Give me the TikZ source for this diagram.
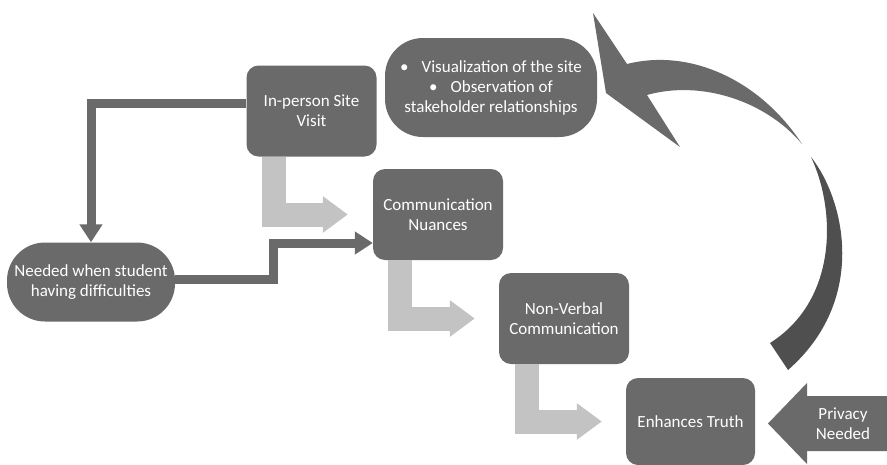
\documentclass[tikz,border=0pt]{standalone}
\usepackage{fontspec}
\setmainfont{Carlito}
\usepackage{tikz}
\usetikzlibrary{arrows.meta,positioning}
\definecolor{fbox}{HTML}{6A6A6A}
\definecolor{flight}{HTML}{C3C3C3}
\definecolor{fdark}{HTML}{4F4F4F}

\begin{document}
\begin{tikzpicture}[x=1pt, y=-1pt, font=\fontsize{17}{20}\selectfont,
  box/.style={fill=fbox, text=white, align=center, rounded corners=12pt,
    minimum width=130pt, minimum height=91pt, inner sep=2pt},
  pill/.style={box, rounded corners=38pt},
  darkline/.style={fbox, line width=9pt, -{Triangle[width=22pt,length=18pt]}},
  lightarrow/.style={flight, line width=24pt, -{Triangle[width=35pt,length=25pt]}}]
\useasboundingbox (0,0) rectangle (887,464);
% boxes
\node[box] (site) at (311.5,111) {In-person Site\\Visit};
\node[pill, minimum width=212pt, minimum height=99pt] (view) at (491,87.5)
   {\textbullet\hspace{13pt}Visualization of the site\\
    \textbullet\hspace{13pt}Observation of\\stakeholder relationships};
\node[box] (nuance) at (438,214.5) {Communication\\Nuances};
\node[pill, minimum width=168pt, minimum height=79pt] (need) at (91,282)
   {Needed when student\\having difficulties};
\node[box] (nonverbal) at (564,318.5) {Non-Verbal\\Communication};
\node[box, minimum width=129pt, minimum height=87pt] (truth) at (690.5,421.5) {Enhances Truth};
% light elbow arrows
\draw[lightarrow] ([xshift=-37.5pt]site.south) |- ([xshift=-25pt]nuance.west);
\draw[lightarrow] ([xshift=-38pt]nuance.south) |- ([xshift=-24pt]nonverbal.west);
\draw[lightarrow] ([xshift=-37.5pt]nonverbal.south) |- ([xshift=-24pt]truth.west);
% dark connectors
\draw[darkline] ([yshift=8pt]site.west) -| (need.north);
\draw[darkline] ([yshift=3pt]need.east) -- ++(98,0) |- ([yshift=-28.5pt]nuance.west);
% privacy arrow
\fill[fbox] (768,423.5) -- (807,383) -- (807,396) -- (900,396) -- (900,451)
   -- (807,451) -- (807,464) -- cycle;
\node[text=white, align=center] (privacy) at (843,424) {Privacy\\Needed};
% curved return arrow (two pieces)
\fill[fbox] (593,13) -- (627,64) .. controls (690,48) and (760,80) .. (802,144)
   .. controls (765,100) and (700,80) .. (647,95) -- (680,147) -- (606,93) -- cycle;
\fill[fdark] (811,157) .. controls (845,200) and (868,300) .. (788,370)
   -- (770,343) .. controls (838,300) and (836,210) .. (811,157) -- cycle;
\end{tikzpicture}
\end{document}
